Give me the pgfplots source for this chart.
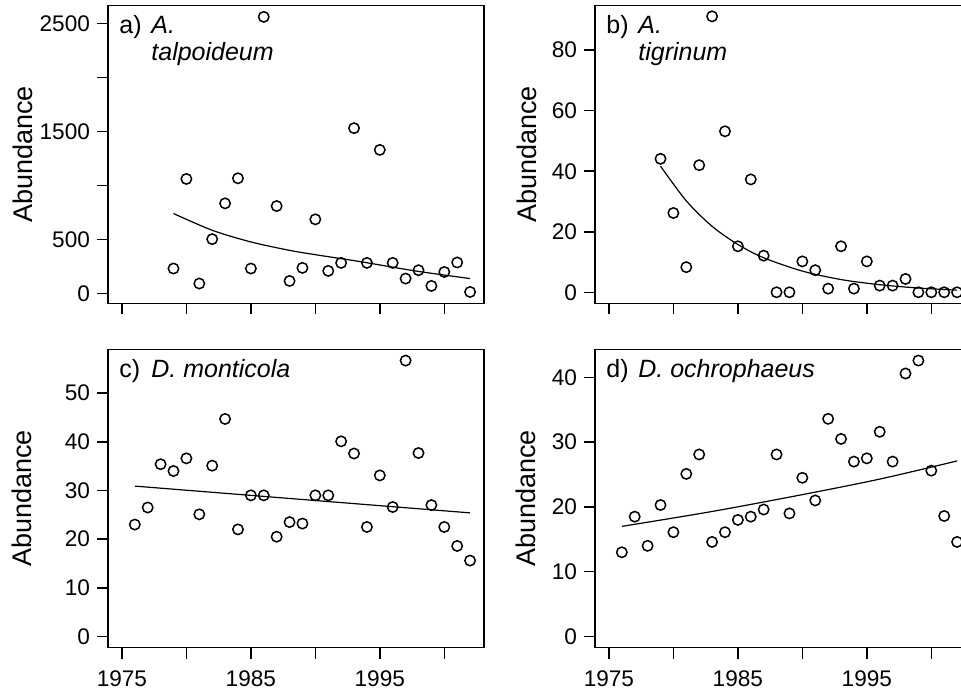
\documentclass[border=0pt]{standalone}
\usepackage{fontspec}
\setmainfont{Liberation Sans}
\usepackage{pgfplots}
\pgfplotsset{compat=1.18}
\pgfplotsset{
  panel/.style={
    scale only axis, width=188pt, height=149pt, anchor=south west,
    xmin=1973.92, xmax=2003.08,
    axis line style={line width=0.75pt},
    tick align=outside, major tick length=5.5pt,
    every tick/.style={line width=0.75pt, black},
    xtick={1975,1980,...,2000},
    xtick pos=bottom, ytick pos=left,
    /pgf/number format/assume math mode=true,
    /pgf/number format/1000 sep={},
    ticklabel style={font=\fontsize{11.3}{13}\selectfont},
    xticklabel style={yshift=-2.8pt},
    ylabel={Abundance},
    ylabel style={font=\fontsize{13.5}{16}\selectfont},
  },
  pts/.style={only marks, mark=o, mark size=2.6pt, black, mark options={line width=0.75pt}},
  fit/.style={black, line width=0.6pt, smooth, no marks},
}
\newcommand{\plab}[3]{%
  \node[anchor=base west, inner sep=0pt, font=\fontsize{12.5}{15}\selectfont] at ([xshift=5.5pt,yshift=-14pt]rel axis cs:0,1) {#1};
  \node[anchor=base west, inner sep=0pt, font=\fontsize{12.5}{15}\selectfont\itshape] at ([xshift=21.5pt,yshift=-14pt]rel axis cs:0,1) {#2};
  \node[anchor=base west, inner sep=0pt, font=\fontsize{12.5}{15}\selectfont\itshape] at ([xshift=21.5pt,yshift=-27.7pt]rel axis cs:0,1) {#3};
}
\begin{document}
\begin{tikzpicture}
\useasboundingbox (0,0) rectangle (480.5pt,346.5pt);
\clip (0,0) rectangle (480.5pt,346.5pt);

% a) A. talpoideum
\begin{axis}[panel, at={(54pt,194.85pt)},
  ymin=-90, ymax=2668,
  ytick={0,500,...,2500}, yticklabels={0,500,,1500,,2500},
  xticklabels={},
  ylabel style={at={([xshift=-42.5pt]rel axis cs:0,0.5)}, anchor=center}]
\addplot[pts] coordinates {
(1979,232) (1980,1061) (1981,93) (1982,504) (1983,835) (1984,1067)
(1985,232) (1986,2561) (1987,810) (1988,117) (1989,238) (1990,687)
(1991,210) (1992,284) (1993,1531) (1994,284) (1995,1330) (1996,284)
(1997,139) (1998,216) (1999,71) (2000,200) (2001,288) (2002,15)};
\addplot[fit] coordinates {
(1979,741) (1982,586) (1985,478) (1988,400) (1990,360) (1993,305) (1995,265) (1998,205) (2002,139)};
\plab{a)}{A.}{talpoideum}
\end{axis}

% b) A. tigrinum
\begin{axis}[panel, at={(297.5pt,194.85pt)},
  ymin=-3.65, ymax=94.85,
  ytick={0,20,...,80},
  xticklabels={},
  ylabel style={at={([xshift=-34pt]rel axis cs:0,0.5)}, anchor=center}]
\addplot[pts] coordinates {
(1979,44.1) (1980,26.2) (1981,8.3) (1982,42) (1983,91.2) (1984,53.2)
(1985,15.2) (1986,37.3) (1987,12.1) (1988,0) (1989,0) (1990,10.2)
(1991,7.3) (1992,1.2) (1993,15.2) (1994,1.2) (1995,10.2) (1996,2.2)
(1997,2.2) (1998,4.4) (1999,0) (2000,0) (2001,0) (2002,0)};
\addplot[fit] coordinates {
(1979,41.7) (1981,30.2) (1983,21.8) (1985,15.8) (1987,11.4) (1990,7.0)
(1993,4.2) (1996,2.5) (1999,1.4) (2002,0.7)};
\plab{b)}{A.}{tigrinum}
\end{axis}

% c) D. monticola
\begin{axis}[panel, at={(54pt,22.75pt)},
  ymin=-2.27, ymax=58.97,
  ytick={0,10,...,50},
  xticklabels={1975,,1985,,1995,},
  ylabel style={at={([xshift=-43pt]rel axis cs:0,0.5)}, anchor=center}]
\addplot[pts] coordinates {
(1976,23.0) (1977,26.5) (1978,35.4) (1979,34.0) (1980,36.6) (1981,25.1)
(1982,35.1) (1983,44.7) (1984,22.0) (1985,29.0) (1986,29.0) (1987,20.5)
(1988,23.5) (1989,23.2) (1990,29.0) (1991,29.0) (1992,40.1) (1993,37.6)
(1994,22.5) (1995,33.1) (1996,26.6) (1997,56.7) (1998,37.7) (1999,27.0)
(2000,22.5) (2001,18.6) (2002,15.6)};
\addplot[fit] coordinates {(1976,30.9) (2002,25.4)};
\node[anchor=base west, inner sep=0pt, font=\fontsize{12.5}{15}\selectfont] at ([xshift=5.5pt,yshift=-14pt]rel axis cs:0,1) {c)};
\node[anchor=base west, inner sep=0pt, font=\fontsize{12.5}{15}\selectfont\itshape] at ([xshift=21.5pt,yshift=-14pt]rel axis cs:0,1) {D. monticola};
\end{axis}

% d) D. ochrophaeus
\begin{axis}[panel, at={(297.5pt,22.75pt)},
  ymin=-1.7, ymax=44.3,
  ytick={0,10,...,40},
  xticklabels={1975,,1985,,1995,},
  ylabel style={at={([xshift=-34.5pt]rel axis cs:0,0.5)}, anchor=center}]
\addplot[pts] coordinates {
(1976,13.0) (1977,18.5) (1978,14.0) (1979,20.3) (1980,16.1) (1981,25.1)
(1982,28.1) (1983,14.6) (1984,16.1) (1985,18.0) (1986,18.5) (1987,19.6)
(1988,28.1) (1989,19.0) (1990,24.5) (1991,21.0) (1992,33.6) (1993,30.5)
(1994,27.0) (1995,27.5) (1996,31.6) (1997,27.0) (1998,40.6) (1999,42.6)
(2000,25.6) (2001,18.6) (2002,14.6)};
\addplot[fit] coordinates {(1976,17.0) (1983,19.3) (1990,21.9) (1996,24.3) (2002,27.1)};
\node[anchor=base west, inner sep=0pt, font=\fontsize{12.5}{15}\selectfont] at ([xshift=5.5pt,yshift=-14pt]rel axis cs:0,1) {d)};
\node[anchor=base west, inner sep=0pt, font=\fontsize{12.5}{15}\selectfont\itshape] at ([xshift=21.5pt,yshift=-14pt]rel axis cs:0,1) {D. ochrophaeus};
\end{axis}
\end{tikzpicture}
\end{document}
